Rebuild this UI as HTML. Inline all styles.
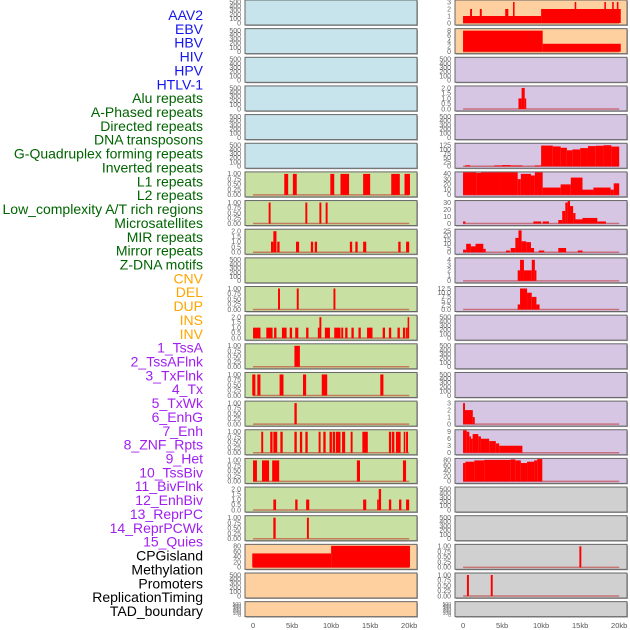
<!DOCTYPE html>
<html><head><meta charset="utf-8"><style>
html,body{margin:0;padding:0;background:#fff;}
svg{display:block;font-family:"Liberation Sans",sans-serif;}
</style></head><body>
<svg id="chart" width="630" height="630" viewBox="0 0 630 630" xmlns="http://www.w3.org/2000/svg">
<g id="labels"></g>
<g id="panels"></g>
<g id="xaxis"></g>
</svg>
<script>
const trackLabels = ["AAV2","EBV","HBV","HIV","HPV","HTLV-1","Alu repeats","A-Phased repeats","Directed repeats","DNA transposons","G-Quadruplex forming repeats","Inverted repeats","L1 repeats","L2 repeats","Low_complexity A/T rich regions","Microsatellites","MIR repeats","Mirror repeats","Z-DNA motifs","CNV","DEL","DUP","INS","INV","1_TssA","2_TssAFlnk","3_TxFlnk","4_Tx","5_TxWk","6_EnhG","7_Enh","8_ZNF_Rpts","9_Het","10_TssBiv","11_BivFlnk","12_EnhBiv","13_ReprPC","14_ReprPCWk","15_Quies","CPGisland","Methylation","Promoters","ReplicationTiming","TAD_boundary"];
const labelGroups = [6,13,5,15,5];
const xTickValues = [0,5,10,15,20];
const xTickLabels = ["0","5kb","10kb","15kb","20kb"];

const T500=[0,100,200,300,400,500], T1=[0,0.25,0.5,0.75,1], T2=[0,0.5,1,1.5,2];
const T3=[0,1,2,3], T8=[0,2,4,6,8], T4=[0,1,2,3,4], T9=[0,3,6,9], T80=[0,20,40,60,80];
const T125=[0,25,50,75,100,125], T40=[0,10,20,30,40], T30=[0,10,20,30], T25=[0,5,10,15,20,25], T12=[0,2.5,5,7.5,10,12.5];

const L6=[[4.0,4.5,1],[5.1,5.6,1],[9.9,10.4,1],[11.2,12.3,1],[14.1,15.0,1],[17.7,18.8,1],[19.4,20.1,1]];
const L7=[[2.0,2.25,1],[6.7,6.95,1],[8.5,8.75,1],[9.3,9.55,1]];
const L8=[[2.3,2.6,1],[2.6,3.0,2],[3.1,3.4,1],[5.5,5.9,1],[7.4,7.7,1],[7.9,8.2,1],[12.4,12.7,1],[13.1,13.4,1],[14.1,14.5,1],[18.6,18.9,1],[19.6,20.0,1]];
const L10=[[3.2,3.45,1],[5.6,5.85,1],[10.3,10.55,1]];
const L11=[[0,0.95,1],[1.7,2.5,1],[2.7,3.0,1],[3.7,4.3,1],[4.7,5.0,1],[5.4,5.8,1],[6.8,7.1,1],[8.3,8.5,1],[8.5,8.75,2],[9.2,9.85,1],[10.4,11.2,1],[11.3,11.55,1],[11.8,12.1,1],[12.6,12.9,1],[13.5,13.8,1],[14.6,15.3,1],[16.6,16.9,1],[17.4,17.7,1],[18.5,18.8,1],[19.2,19.5,1],[19.6,19.8,1],[19.8,20.0,2]];
const L12=[[5.3,6.0,1]];
const L13=[[-0.1,0.3,1],[0.55,0.95,1],[3.4,3.9,1],[6.4,6.8,1],[8.8,9.5,1],[16.3,16.7,1]];
const L14=[[5.3,5.6,1]];
const L15=[[1.05,1.3,1],[2.2,2.5,1],[2.6,3.1,1],[3.5,3.8,1],[5.3,5.6,1],[6.0,6.3,1],[6.7,7.0,1],[8.4,8.65,1],[9.0,9.3,1],[9.8,10.1,1],[10.2,10.5,1],[10.6,11.2,1],[11.4,11.8,1],[12.5,12.75,1],[14.0,14.7,1],[17.4,17.7,1],[17.8,18.1,1],[18.3,18.9,1],[19.3,19.5,1],[19.6,19.85,1]];
const L16=[[0,0.5,1],[1.15,2.05,1],[2.45,3.35,1],[13.3,13.7,1],[19.2,19.6,1]];
const L17=[[2.6,2.95,1],[5.4,5.7,1],[6.8,7.2,1],[14.1,14.5,1],[15.9,16.1,1],[16.1,16.4,2],[17.4,17.7,1],[18.7,19.0,1],[19.6,20.0,1]];
const L18=[[2.6,2.9,1],[6.9,7.15,1]];
const L19=[[-0.1,10.0,53],[10.0,20.1,82]];

const R0=[[0,10.0,1],[10.0,20.2,2],[0.9,1.15,2],[2.15,2.4,2],[5.4,5.8,2],[6.4,6.6,3],[14.3,14.5,3],[18.1,18.3,3],[19.1,19.3,3],[19.7,19.9,3]];
const R1=[[0,10.2,8],[10.2,20.2,3]];
const R3=[[7.1,7.5,1],[7.5,7.9,2],[7.9,8.0,1]];
const R5=[[0.3,0.9,6],[4.0,5.0,5],[5.0,6.1,7],[6.1,7.6,5],[9.2,10.0,5],[10.0,11.5,123],[11.5,12.5,118],[12.5,13.3,110],[13.3,14.0,95],[14.0,15.0,100],[15.0,16.0,108],[16.0,17.0,120],[17.0,18.0,122],[18.0,19.0,125],[19.0,20.0,117]];
const R6=[[0,1.7,46],[1.7,2.3,42],[2.3,4.8,45],[4.8,7.0,43],[7.0,7.4,30],[7.4,8.7,40],[8.7,9.2,37],[9.2,10.2,45],[10.2,12.5,14],[12.5,13.8,20],[13.8,15.3,33],[15.3,16.7,10],[16.7,18.9,14],[18.9,19.3,10],[19.3,20.0,22]];
const R7=[[0,0.3,3],[9.0,10.0,3],[10.2,11.0,3],[12.2,12.7,5],[12.7,13.1,18],[13.1,13.4,30],[13.4,13.7,37],[13.7,14.1,25],[14.1,14.4,15],[14.4,15.3,6],[15.3,17.2,8],[17.2,18.3,3]];
const R8=[[0,0.4,3],[0.4,1.0,10],[1.0,1.6,7],[1.6,2.6,10],[2.6,2.9,4],[5.5,6.0,2],[6.1,6.7,5],[6.7,7.1,17],[7.1,7.5,26],[7.5,8.1,13],[8.1,8.7,12],[8.7,9.1,5],[9.7,10.4,2],[12.2,13.2,5],[14.7,15.3,2]];
const R9=[[7.0,7.3,2],[7.3,7.8,4],[7.8,8.8,2],[8.8,9.2,4],[9.2,9.4,2]];
const R10=[[7.0,7.3,3],[7.3,8.2,12.5],[8.2,8.8,10],[8.8,9.4,7.5],[9.4,9.8,3]];
const R14=[[0,0.25,3],[0.25,1.25,2],[1.25,1.5,1]];
const R15=[[0,0.47,10.5],[0.47,0.8,9],[0.8,1.02,7],[1.02,1.23,6],[1.23,1.95,8],[1.95,2.29,7],[2.29,3.35,6],[3.35,4.2,5],[4.2,4.63,4],[4.63,7.6,3]];
const R16=[[0,0.3,70],[0.3,1.45,75],[1.45,2.7,80],[2.7,6.1,82],[6.1,6.7,84],[6.7,7.4,80],[7.4,8.2,70],[8.2,9.1,75],[9.1,9.5,80],[9.5,10.15,85]];
const R19=[[14.9,15.15,1]];
const R20=[[0.5,0.75,1],[3.55,3.8,1]];

const BLUE="#c7e4ec", GREEN="#c8e1a3", ORANGE="#fed09f", PURPLE="#d6c5e3", GREY="#d0d0d0";
const fmt2=v=>v.toFixed(2), fmt1=v=>v.toFixed(1), fmt0=v=>String(v);
const leftPanels=[[BLUE,T500,[],fmt0],[BLUE,T500,[],fmt0],[BLUE,T500,[],fmt0],[BLUE,T500,[],fmt0],[BLUE,T500,[],fmt0],[BLUE,T500,[],fmt0],
 [GREEN,T1,L6,fmt2],[GREEN,T1,L7,fmt2],[GREEN,T2,L8,fmt1],[GREEN,T500,[],fmt0],[GREEN,T1,L10,fmt2],[GREEN,T2,L11,fmt1],[GREEN,T1,L12,fmt2],[GREEN,T1,L13,fmt2],[GREEN,T1,L14,fmt2],[GREEN,T1,L15,fmt2],[GREEN,T1,L16,fmt2],[GREEN,T2,L17,fmt1],[GREEN,T1,L18,fmt2],
 [ORANGE,T80,L19,fmt0],[ORANGE,T500,[],fmt0],[ORANGE,T500,[],fmt0]];
const rightPanels=[[ORANGE,T3,R0,fmt0],[ORANGE,T8,R1,fmt0],[PURPLE,T500,[],fmt0],[PURPLE,T2,R3,fmt1],[PURPLE,T500,[],fmt0],[PURPLE,T125,R5,fmt0],[PURPLE,T40,R6,fmt0],[PURPLE,T30,R7,fmt0],[PURPLE,T25,R8,fmt0],[PURPLE,T4,R9,fmt0],[PURPLE,T12,R10,fmt1],[PURPLE,T500,[],fmt0],[PURPLE,T500,[],fmt0],[PURPLE,T500,[],fmt0],[PURPLE,T3,R14,fmt0],[PURPLE,T9,R15,fmt0],[PURPLE,T80,R16,fmt0],
 [GREY,T500,[],fmt0],[GREY,T500,[],fmt0],[GREY,T1,R19,fmt2],[GREY,T1,R20,fmt2],[GREY,T500,[],fmt0]];

const NS="http://www.w3.org/2000/svg";
function mk(tag,attrs,parent){const e=document.createElementNS(NS,tag);for(const k in attrs)e.setAttribute(k,attrs[k]);parent.appendChild(e);return e;}
const X0=[245,455], PW=172, DMIN=-1.03, DMAX=21.0;
function sx(col,kb){return X0[col]+(kb-DMIN)*PW/(DMAX-DMIN);}
function rowTop(i){return i*28.65;}
function rowH(i){return i===21?15:25;}

const lg=document.getElementById('labels');
const groupColors=["#1515ee","#006400","#ffa500","#a020f0","#000000"];
let gi=0,gc=0;
trackLabels.forEach((t,i)=>{
  const col=groupColors[gi];
  const el=mk('text',{x:203,y:15+i*13.86+5,'text-anchor':'end','font-size':14,fill:col},lg);
  
  
  el.textContent=t;
  gc++; if(gc>=labelGroups[gi]){gi++;gc=0;}
});

const pg=document.getElementById('panels');
function drawPanel(col,i,cfg){
  const [bg,ticks,segs,f]=cfg;
  const top=rowTop(i), h=rowH(i), x=X0[col];
  const g=mk('g',{},pg);
  
  
  mk('rect',{x:x+1,y:top+1,width:PW,height:h,fill:'#aaa'},g);
  const r=mk('rect',{x:x,y:top,width:PW,height:h,fill:bg,stroke:'#666','stroke-width':1},g);
  
  
  const ymax=ticks[ticks.length-1];
  const y0=top+h-2, ytop=top+2;
  const sy=v=>Math.max(top+0.5,y0-v/ymax*(y0-ytop));
  ticks.forEach(t=>{
    const tl=mk('text',{x:x-4,y:sy(t)+2.3,'text-anchor':'end','font-size':h<20?5:7,fill:'#666'},g);
    
    
    tl.textContent=f(t);
  });
  if(segs.length){
    mk('line',{x1:sx(col,0),x2:sx(col,20),y1:y0,y2:y0,stroke:'rgba(190,40,40,0.55)','stroke-width':1.5},g);
    segs.forEach(s=>{
      const x1=sx(col,s[0]), x2=sx(col,s[1]), yy=sy(s[2]);
      const b=mk('rect',{x:x1,y:yy,width:Math.max(1.5,x2-x1),height:y0-yy,fill:'#ff0000'},g);
      
      
    });
  }
}
leftPanels.forEach((c,i)=>drawPanel(0,i,c));
rightPanels.forEach((c,i)=>drawPanel(1,i,c));

const xg=document.getElementById('xaxis');
[0,1].forEach(col=>{
  xTickValues.forEach((v,k)=>{
    const t=mk('text',{x:sx(col,v),y:628,'text-anchor':'middle','font-size':7.5,fill:'#555'},xg);
    
    
    t.textContent=xTickLabels[k];
  });
});
</script>
</body></html>
